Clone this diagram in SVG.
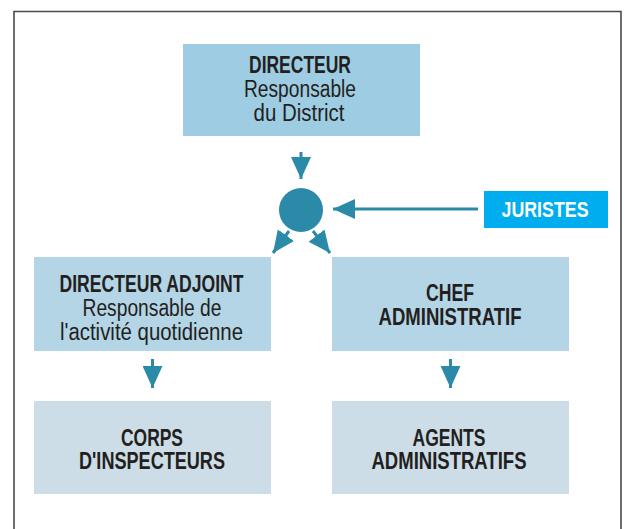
<svg xmlns="http://www.w3.org/2000/svg" width="626" height="529" viewBox="0 0 626 529">
<defs>
<style>
.frame{fill:none;stroke:#4a4a4a;stroke-width:1.6}
.b1{fill:#9ecce3}
.b2{fill:#b3d5e6}
.b3{fill:#ccdde7}
.jur{fill:#00aeef}
.t{font-family:"Liberation Sans",Arial,sans-serif;font-size:23px;fill:#231f20;text-anchor:middle}
.h{font-weight:bold}
.w{fill:#ffffff;font-size:21.5px}
.conn{stroke:#2a8aa8;stroke-width:3;fill:none;marker-end:url(#ah)}
.dot{fill:#2a8aa8}
</style>
<marker id="ah" viewBox="0 0 22 20" markerWidth="22" markerHeight="20" refX="22" refY="10" orient="auto" markerUnits="userSpaceOnUse">
<path d="M0,0 L22,10 L0,20 Z" fill="#2a8aa8"/>
</marker>
</defs>
<rect width="626" height="529" fill="#ffffff"/>
<path class="frame" d="M14,540 L14,11.5 L621,11.5 L621,540"/>

<g id="connectors">
<line class="conn" x1="301" y1="152" x2="301" y2="179"/>
<line class="conn" x1="478" y1="209" x2="333" y2="209"/>
<line class="conn" x1="289" y1="231" x2="273" y2="253"/>
<line class="conn" x1="313" y1="231" x2="330" y2="253"/>
<line class="conn" x1="152.5" y1="359" x2="152.5" y2="388"/>
<line class="conn" x1="450.5" y1="359" x2="450.5" y2="388"/>
</g>

<g id="hub">
<circle class="dot" cx="301" cy="210" r="22"/>
</g>

<g id="directeur">
<rect class="b1" x="183" y="44" width="237" height="92"/>
<text class="t h" x="300" y="73" textLength="102" lengthAdjust="spacingAndGlyphs">DIRECTEUR</text>
<text class="t" x="300" y="97" textLength="112" lengthAdjust="spacingAndGlyphs">Responsable</text>
<text class="t" x="299" y="121" textLength="91" lengthAdjust="spacingAndGlyphs">du District</text>
</g>

<g id="juristes">
<rect class="jur" x="484" y="191" width="124" height="37"/>
<text class="t h w" x="545" y="217" textLength="87" lengthAdjust="spacingAndGlyphs">JURISTES</text>
</g>

<g id="directeur-adjoint">
<rect class="b2" x="34" y="257" width="237" height="94"/>
<text class="t h" x="151.5" y="292" textLength="184" lengthAdjust="spacingAndGlyphs">DIRECTEUR ADJOINT</text>
<text class="t" x="152" y="316" textLength="139" lengthAdjust="spacingAndGlyphs">Responsable de</text>
<text class="t" x="151.5" y="340" textLength="183" lengthAdjust="spacingAndGlyphs">l'activité quotidienne</text>
</g>

<g id="chef-administratif">
<rect class="b2" x="332" y="257" width="237" height="94"/>
<text class="t h" x="450" y="301" textLength="48" lengthAdjust="spacingAndGlyphs">CHEF</text>
<text class="t h" x="450" y="324.5" textLength="143" lengthAdjust="spacingAndGlyphs">ADMINISTRATIF</text>
</g>

<g id="corps-inspecteurs">
<rect class="b3" x="34" y="401" width="237" height="93"/>
<text class="t h" x="152" y="445.5" textLength="62" lengthAdjust="spacingAndGlyphs">CORPS</text>
<text class="t h" x="152" y="469" textLength="146" lengthAdjust="spacingAndGlyphs">D'INSPECTEURS</text>
</g>

<g id="agents-administratifs">
<rect class="b3" x="332" y="401" width="237" height="93"/>
<text class="t h" x="449" y="445.5" textLength="73" lengthAdjust="spacingAndGlyphs">AGENTS</text>
<text class="t h" x="449" y="469" textLength="155" lengthAdjust="spacingAndGlyphs">ADMINISTRATIFS</text>
</g>
</svg>
